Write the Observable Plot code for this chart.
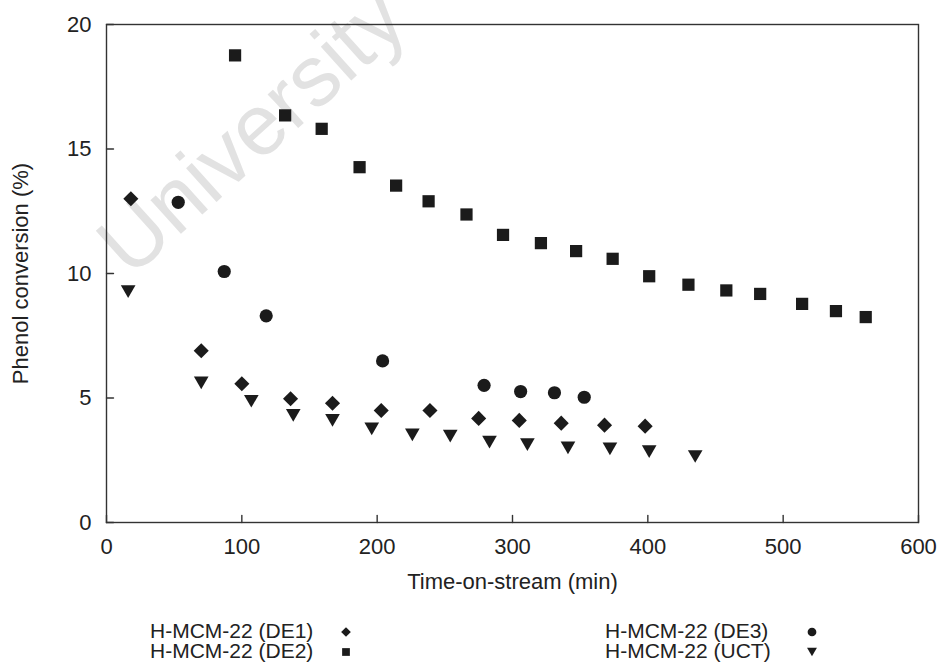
<!DOCTYPE html>
<html>
<head>
<meta charset="utf-8">
<script src="https://cdn.jsdelivr.net/npm/d3@7"></script>
<script src="https://cdn.jsdelivr.net/npm/@observablehq/plot@0.6"></script>
<style>
  body { margin: 0; background: #fff; }
  #wrap { position: relative; width: 944px; height: 665px; overflow: hidden;
          font-family: "Liberation Sans", Arial, Helvetica, sans-serif; color: #222; }
  #stamp { position: absolute; left: 251px; top: 131px; z-index: 0;
           transform: translate(-50%, -50%) rotate(-42deg);
           font-size: 86px; color: #e2e2e2; white-space: nowrap; }
  #chart { position: absolute; left: 0; top: 0; z-index: 1; }
  .leg { position: absolute; z-index: 2; font-size: 21px; line-height: 20px; white-space: nowrap; }
  .sym { position: absolute; z-index: 2; }
</style>
</head>
<body>
<div id="wrap">
  <div id="stamp">University</div>
  <div id="chart"></div>
</div>
<script>
// Phenol conversion over time-on-stream for four H-MCM-22 catalysts
const xTicks = [0, 100, 200, 300, 400, 500, 600];
const yTicks = [0, 5, 10, 15, 20];
const xLabel = "Time-on-stream (min)";
const yLabel = "Phenol conversion (%)";

const seriesNames = ["H-MCM-22 (DE1)", "H-MCM-22 (DE2)", "H-MCM-22 (DE3)", "H-MCM-22 (UCT)"];

const de1Time = [18, 70, 100, 136, 167, 203, 239, 275, 305, 336, 368, 398];
const de1Conv = [13.0, 6.9, 5.57, 4.97, 4.79, 4.5, 4.5, 4.18, 4.1, 3.99, 3.91, 3.87];

const de2Time = [95, 132, 159, 187, 214, 238, 266, 293, 321, 347, 374, 401, 430, 458, 483, 514, 539, 561];
const de2Conv = [18.76, 16.35, 15.81, 14.27, 13.53, 12.9, 12.37, 11.55, 11.22, 10.9, 10.59, 9.89, 9.55, 9.32, 9.18, 8.78, 8.49, 8.25];

const de3Time = [53, 87, 118, 204, 279, 306, 331, 353];
const de3Conv = [12.86, 10.08, 8.3, 6.49, 5.51, 5.26, 5.21, 5.03];

const uctTime = [16, 70, 107, 138, 167, 196, 226, 254, 283, 311, 341, 372, 401, 435];
const uctConv = [9.27, 5.61, 4.87, 4.3, 4.1, 3.76, 3.52, 3.47, 3.23, 3.13, 3.0, 2.96, 2.85, 2.65];

const ink = "#1b1b1b";
const font = "'Liberation Sans', Arial, Helvetica, sans-serif";

const rows = (series, t, c) => t.map((time, i) => ({series, time, conv: c[i]}));
const de1 = rows(seriesNames[0], de1Time, de1Conv);
const de2 = rows(seriesNames[1], de2Time, de2Conv);
const de3 = rows(seriesNames[2], de3Time, de3Conv);
const uct = rows(seriesNames[3], uctTime, uctConv);

// Downward triangle centred on its bounding box
const triangleDown = {
  draw(ctx, size) {
    const s = Math.sqrt(size) * 0.6824;
    const u = s * Math.sqrt(3) / 2;
    const h = 1.5 * s;
    ctx.moveTo(-u, -h / 2);
    ctx.lineTo(u, -h / 2);
    ctx.lineTo(0, h / 2);
    ctx.closePath();
  }
};

// Plain straight tick (no arrowhead) for inward-pointing axis ticks
const tickShape = {
  draw(ctx, length) {
    ctx.moveTo(0, 0);
    ctx.lineTo(0, -length);
  }
};

const chart = Plot.plot({
  width: 944,
  height: 600,
  marginTop: 24,
  marginRight: 26,
  marginBottom: 78,
  marginLeft: 106,
  style: {fontFamily: font, fontSize: "22px", color: "#222", background: "transparent", overflow: "visible"},
  x: {domain: [0, 600]},
  y: {domain: [0, 20]},
  marks: [
    Plot.frame({stroke: "#333", strokeWidth: 1.4}),
    Plot.axisX(xTicks, {anchor: "bottom", tickSize: 0, tickPadding: 16, label: xLabel,
                        labelAnchor: "center", labelOffset: 66, labelArrow: "none"}),
    Plot.axisY(yTicks, {anchor: "left", tickSize: 0, tickPadding: 15, label: yLabel,
                        labelAnchor: "center", labelOffset: 94, labelArrow: "none"}),
    // inward ticks on the bottom and left edges
    Plot.vector(xTicks, {x: (d) => d, frameAnchor: "bottom", length: 7, anchor: "start",
                         shape: tickShape, stroke: "#333", strokeWidth: 1.4}),
    Plot.vector(yTicks, {y: (d) => d, frameAnchor: "left", length: 7, anchor: "start", rotate: 90,
                         shape: tickShape, stroke: "#333", strokeWidth: 1.4}),
    Plot.dot(de2, {x: "time", y: "conv", symbol: "square", r: 6.9, fill: ink}),
    Plot.dot(de3, {x: "time", y: "conv", symbol: "circle", r: 6.6, fill: ink}),
    Plot.dot(de1, {x: "time", y: "conv", symbol: "diamond2", r: 6.8, fill: ink}),
    Plot.dot(uct, {x: "time", y: "conv", symbol: triangleDown, r: 7.0, fill: ink})
  ]
});
document.getElementById("chart").append(chart);

// Legend below the plot: two columns of label + marker
const wrap = document.getElementById("wrap");
const legendItems = [
  {name: seriesNames[0], symbol: d3.symbolDiamond2, size: 60, tx: 150, ty: 621, sx: 346, sy: 632},
  {name: seriesNames[1], symbol: d3.symbolSquare, size: 60, tx: 150, ty: 641, sx: 346, sy: 652},
  {name: seriesNames[2], symbol: d3.symbolCircle, size: 60, tx: 605, ty: 621, sx: 812, sy: 632},
  {name: seriesNames[3], symbol: triangleDown, size: 70, tx: 605, ty: 641, sx: 812, sy: 652}
];
for (const it of legendItems) {
  const label = document.createElement("div");
  label.className = "leg";
  label.style.left = it.tx + "px";
  label.style.top = it.ty + "px";
  label.textContent = it.name;
  wrap.append(label);

  const svg = d3.create("svg").attr("class", "sym").attr("width", 20).attr("height", 20)
    .style("left", (it.sx - 10) + "px").style("top", (it.sy - 10) + "px");
  svg.append("path")
    .attr("transform", "translate(10,10)")
    .attr("d", d3.symbol(it.symbol, it.size)())
    .attr("fill", ink);
  wrap.append(svg.node());
}
</script>
</body>
</html>
